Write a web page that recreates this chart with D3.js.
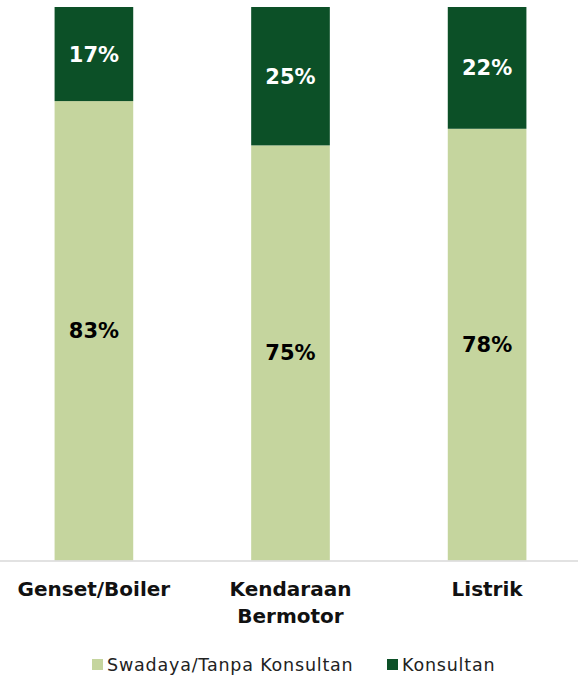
<!DOCTYPE html>
<meta charset="utf-8">
<head>
 <title>Swadaya vs Konsultan</title>
</head>

<style>
body { margin: 0; background: #fff; }
text { font-family: "DejaVu Sans", sans-serif; }
</style>

<body>
 <svg id="chart" width="578" height="675"></svg>

 <script src="https://cdnjs.cloudflare.com/ajax/libs/d3/7.8.5/d3.min.js"></script>
 <script>
var width = 578, height = 675

// data
var categories = [["Genset/Boiler"], ["Kendaraan", "Bermotor"], ["Listrik"]]
var swadaya = [83, 75, 78]
var konsultan = [17, 25, 22]
var seriesNames = ["Swadaya/Tanpa Konsultan", "Konsultan"]
var colors = ["#c5d59e", "#0c5027"]

var svg = d3.select('#chart')

var x = d3.scaleBand()
  .domain(d3.range(categories.length))
  .range([1.5, 579.5])
  .paddingInner(0.6)
  .paddingOuter(0.27)

var y = d3.scaleLinear().domain([0, 100]).range([560.5, 7])

var rows = categories.map(function(c, i) {
  return {i: i, a: swadaya[i], b: konsultan[i]}
})

// light segment (bottom)
svg.selectAll('rect.a').data(rows).enter().append('rect')
  .attr('class', 'a')
  .attr('x', function(d) { return x(d.i) })
  .attr('width', x.bandwidth())
  .attr('y', function(d) { return y(d.a) })
  .attr('height', function(d) { return y(0) - y(d.a) })
  .attr('fill', colors[0])

// dark segment (top)
svg.selectAll('rect.b').data(rows).enter().append('rect')
  .attr('class', 'b')
  .attr('x', function(d) { return x(d.i) })
  .attr('width', x.bandwidth())
  .attr('y', function(d) { return y(d.a + d.b) })
  .attr('height', function(d) { return y(d.a) - y(d.a + d.b) })
  .attr('fill', colors[1])

// value labels
svg.selectAll('text.va').data(rows).enter().append('text')
  .attr('x', function(d) { return x(d.i) + x.bandwidth() / 2 })
  .attr('y', function(d) { return (y(0) + y(d.a)) / 2 })
  .attr('dy', '0.36em')
  .attr('text-anchor', 'middle')
  .attr('font-size', 21).attr('font-weight', 'bold')
  .attr('fill', '#000')
  .text(function(d) { return d.a + '%' })

svg.selectAll('text.vb').data(rows).enter().append('text')
  .attr('x', function(d) { return x(d.i) + x.bandwidth() / 2 })
  .attr('y', function(d) { return (y(d.a) + y(d.a + d.b)) / 2 })
  .attr('dy', '0.36em')
  .attr('text-anchor', 'middle')
  .attr('font-size', 21).attr('font-weight', 'bold')
  .attr('fill', '#fff')
  .text(function(d) { return d.b + '%' })

// baseline
svg.append('line')
  .attr('x1', 0).attr('x2', width)
  .attr('y1', y(0) + 0.5).attr('y2', y(0) + 0.5)
  .attr('stroke', '#d9d9d9').attr('stroke-width', 1.5)

// category labels
var cat = svg.selectAll('text.cat').data(categories).enter().append('text')
  .attr('text-anchor', 'middle')
  .attr('font-size', 20).attr('font-weight', 'bold')
  .attr('fill', '#111')
  .attr('transform', function(d, i) {
    return 'translate(' + (x(i) + x.bandwidth() / 2) + ',596)'
  })
cat.selectAll('tspan').data(function(d) { return d }).enter().append('tspan')
  .attr('x', 0)
  .attr('dy', function(d, j) { return j === 0 ? 0 : 27 })
  .text(function(d) { return d })

// legend
var legX = [92, 387]
var leg = svg.selectAll('g.leg').data(seriesNames).enter().append('g')
  .attr('transform', function(d, i) { return 'translate(' + legX[i] + ',659)' })
leg.append('rect').attr('width', 11).attr('height', 11)
  .attr('fill', function(d, i) { return colors[i] })
leg.append('text')
  .attr('x', 15).attr('y', 5.5).attr('dy', '0.36em')
  .attr('font-size', 17.5).attr('letter-spacing', 0.8).attr('fill', '#222')
  .text(function(d) { return d })
 </script>
</body>
</html>
